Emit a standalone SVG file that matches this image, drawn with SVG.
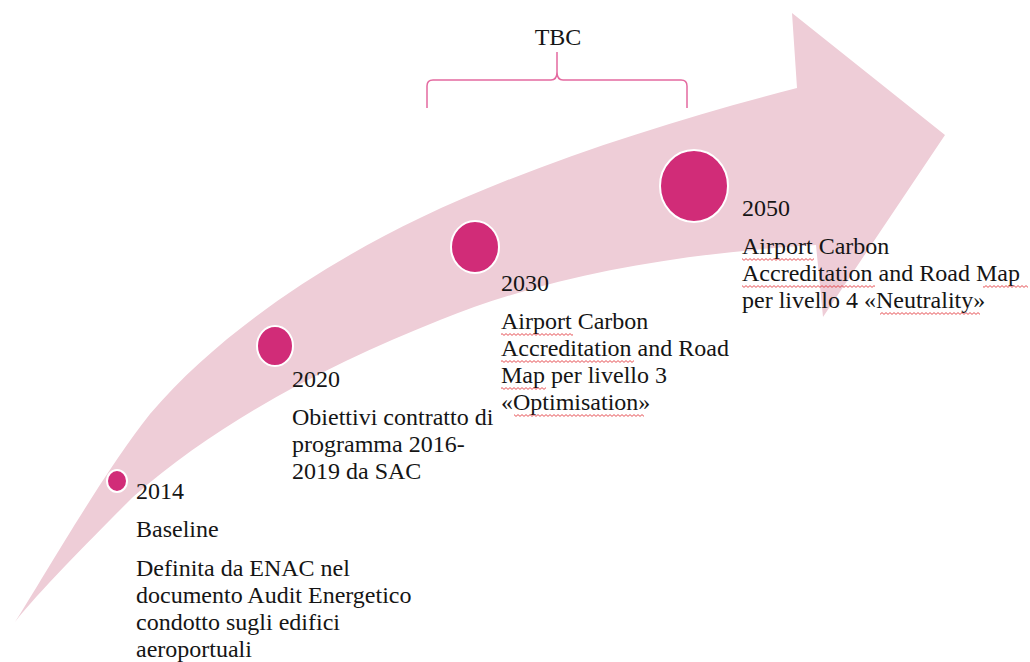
<svg xmlns="http://www.w3.org/2000/svg" width="1030" height="662" viewBox="0 0 1030 662">
  <style>
    .lbl { font-family: "Liberation Serif", "Times New Roman", serif; font-size: 24px; fill: #151515; }
    .dot { fill: #D12C78; stroke: #FFFFFF; stroke-width: 2; }
    .brace { fill: none; stroke: #E46AA0; stroke-width: 1.5; stroke-linejoin: round; }
    .sq { fill: url(#squiggle); }
  </style>
  <defs>
    <pattern id="squiggle" x="0" y="0" width="4" height="3" patternUnits="userSpaceOnUse">
      <path d="M0,2.4 L2,0.6 L4,2.4" fill="none" stroke="#E0262B" stroke-width="0.8"/>
    </pattern>
  </defs>

  <rect width="1030" height="662" fill="#FFFFFF"/>

  <g id="arrow">
    <path d="M15,622 C45,575 105,470 150,414 C221,330 330,261 420,218 C533,164 676,119 797,88 L792,13 L945,135 L823,317 L816,245 C688,253 559,272 440,320 C330,364 220,420 133,497 C100,530 40,590 15,622 Z" fill="#EECDD7"/>
  </g>

  <g id="connectors">
    <path class="brace" d="M427,108 L427,86 Q427,80 433,80 L551,80 Q557,80 557,72 L557,52 M557,72 Q557,80 563,80 L681,80 Q687,80 687,86 L687,108"/>
  </g>

  <g id="tbc">
    <text class="lbl" x="558" y="45" text-anchor="middle">TBC</text>
  </g>

  <g id="node-2014">
    <ellipse class="dot" cx="117" cy="481" rx="10" ry="11"/>
    <text class="lbl" x="136" y="499">2014</text>
    <text class="lbl" x="136" y="537">Baseline</text>
    <text class="lbl" x="136" y="576">Definita da ENAC nel</text>
    <text class="lbl" x="136" y="603">documento Audit Energetico</text>
    <text class="lbl" x="136" y="630">condotto sugli edifici</text>
    <text class="lbl" x="136" y="657">aeroportuali</text>
  </g>

  <g id="node-2020">
    <ellipse class="dot" cx="275" cy="346" rx="18" ry="20"/>
    <text class="lbl" x="292" y="387">2020</text>
    <text class="lbl" x="292" y="425">Obiettivi contratto di</text>
    <text class="lbl" x="292" y="452">programma 2016-</text>
    <text class="lbl" x="292" y="479">2019 da SAC</text>
  </g>

  <g id="node-2030">
    <ellipse class="dot" cx="475" cy="247" rx="24" ry="26"/>
    <text class="lbl" x="501" y="291">2030</text>
    <text class="lbl" x="501" y="329">Airport Carbon</text>
    <text class="lbl" x="501" y="356">Accreditation and Road</text>
    <text class="lbl" x="501" y="383">Map per livello 3</text>
    <text class="lbl" x="501" y="410">«Optimisation»</text>
    <rect class="sq" x="501" y="333" width="72" height="3"/>
    <rect class="sq" x="501" y="360" width="133" height="3"/>
    <rect class="sq" x="501" y="387" width="45" height="3"/>
    <rect class="sq" x="514" y="414" width="130" height="3"/>
  </g>

  <g id="node-2050">
    <ellipse class="dot" cx="694" cy="186" rx="34" ry="36"/>
    <text class="lbl" x="742" y="216">2050</text>
    <text class="lbl" x="742" y="254">Airport Carbon</text>
    <text class="lbl" x="742" y="281">Accreditation and Road Map</text>
    <text class="lbl" x="742" y="308">per livello 4 «Neutrality»</text>
    <rect class="sq" x="742" y="258" width="72" height="3"/>
    <rect class="sq" x="742" y="285" width="133" height="3"/>
    <rect class="sq" x="983" y="285" width="45" height="3"/>
    <rect class="sq" x="880" y="312" width="100" height="3"/>
  </g>
</svg>
